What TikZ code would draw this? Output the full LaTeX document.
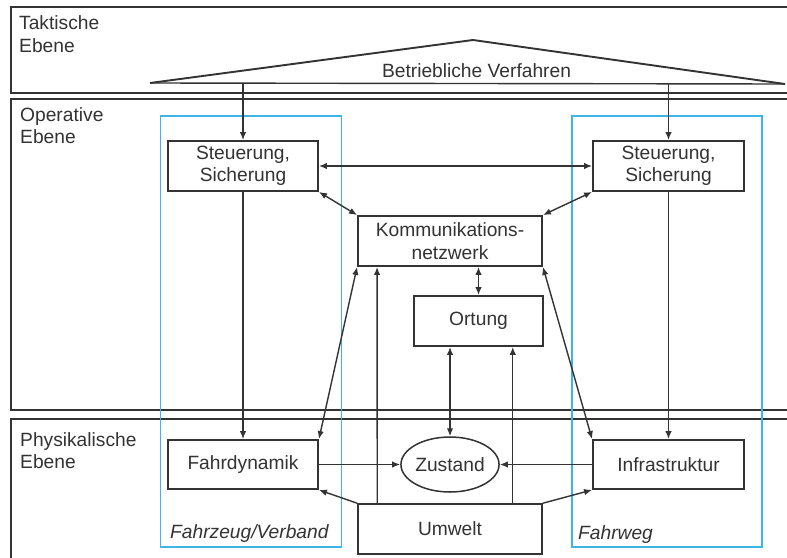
\documentclass[tikz,border=0pt]{standalone}
\usepackage{fontspec}
\setmainfont{Liberation Sans}
\usetikzlibrary{arrows.meta,shapes.geometric}
\definecolor{grpblue}{HTML}{3DB5E6}
\definecolor{ink}{HTML}{333333}
\begin{document}
\begin{tikzpicture}[x=1pt,y=-1pt,
  band/.style={draw=ink, line width=2.6pt},
  txt/.style={font=\fontsize{19.2}{22.5}\selectfont, text=ink},
  box/.style={txt, draw=ink, line width=1.9pt, rectangle, inner sep=0pt, align=center},
  conn/.style={draw=ink, line width=1.4pt},
  ar/.style={conn, -{Latex[length=8pt,width=6.5pt]}},
  dar/.style={conn, {Latex[length=8pt,width=6.5pt]}-{Latex[length=8pt,width=6.5pt]}},
  grp/.style={draw=grpblue, line width=1.5pt},
  lab/.style={txt, align=left, inner sep=0pt}]
\useasboundingbox (0,0) rectangle (787,557);
\clip (0,0) rectangle (787,557);
\fill[white] (0,0) rectangle (787,557);

% layers
\draw[band] (11,7) rectangle (800,93);
\draw[band] (11,99) rectangle (800,410);
\draw[band] (11,419) rectangle (800,575);
\node[lab, anchor=west] (lt) at (19,34) {Taktische\\Ebene};
\node[lab, anchor=west] (lo) at (20,125.5) {Operative\\Ebene};
\node[lab, anchor=west] (lp) at (20,450.5) {Physikalische\\Ebene};

% groups
\draw[grp] (160.5,116) rectangle (341.5,547);
\draw[grp] (572,116) rectangle (762,547);
\node[txt, font=\fontsize{19.2}{22.5}\selectfont\itshape, anchor=base west, inner sep=0pt] (gl) at (170,538) {Fahrzeug/Verband};
\node[txt, font=\fontsize{19.2}{22.5}\selectfont\itshape, anchor=base west, inner sep=0pt] (gr) at (578,539) {Fahrweg};

% roof
\coordinate (tl) at (150,83);
\coordinate (ta) at (473,40);
\coordinate (tr) at (785,84);
\draw[ink, line width=1.9pt, line join=miter] (tl) -- (ta) -- (tr);
\draw[ink, line width=1.4pt] (tl) -- (tr);
\node[txt, anchor=base, inner sep=0pt] (bv) at (476.5,77) {Betriebliche Verfahren};

% nodes
\node[box, minimum width=150pt, minimum height=50pt] (sl) at (243,166) {Steuerung,\\Sicherung};
\node[box, minimum width=151pt, minimum height=50pt] (sr) at (668.5,166) {Steuerung,\\Sicherung};
\node[box, minimum width=184pt, minimum height=50pt] (km) at (450,241) {Kommunikations-\\netzwerk};
\node[box, minimum width=129pt, minimum height=50pt] (or) at (478.5,321) {Ortung};
\node[box, minimum width=150pt, minimum height=49pt] (fd) at (243,464.5) {Fahrdynamik};
\node[box, minimum width=151pt, minimum height=49pt] (in) at (668.5,464.5) {Infrastruktur};
\node[box, ellipse, line width=1.5pt, minimum width=93pt, minimum height=55pt] (zu) at (450,464.5) {Zustand};
\node[box, line width=1.5pt, minimum width=184pt, minimum height=50pt] (um) at (450,529) {Umwelt};

% connectors
\coordinate (b1) at (243,83);
\coordinate (b2) at (668.5,83.5);
\draw[ar] (b1) -- (sl.north);
\draw[ar] (b2) -- (sr.north);
\draw[dar] (sl.east) -- (sr.west);
\draw[dar] (sl.south east) -- (km.north west);
\draw[dar] (sr.south west) -- (km.north east);
\draw[ar] (sl.south) -- (fd.north);
\draw[ar] (sr.south) -- (in.north);
\draw[dar] (km.south west) -- (fd.north east);
\draw[dar] (km.south east) -- (in.north west);
\draw[dar] (or.north) -- (or.north |- km.south);
\draw[ar] ([xshift=20pt]um.north west) -- ([xshift=20pt]km.south west);
\draw[ar] ([xshift=-30pt]um.north east) -- ([xshift=-30pt]um.north east |- or.south);
\draw[dar] (zu.north) -- (zu.north |- or.south);
\draw[ar] (fd.east) -- (zu.west);
\draw[ar] (in.west) -- (zu.east);
\draw[ar] (um.north west) -- (fd.south east);
\draw[ar] (um.north east) -- (in.south west);
\end{tikzpicture}
\end{document}
